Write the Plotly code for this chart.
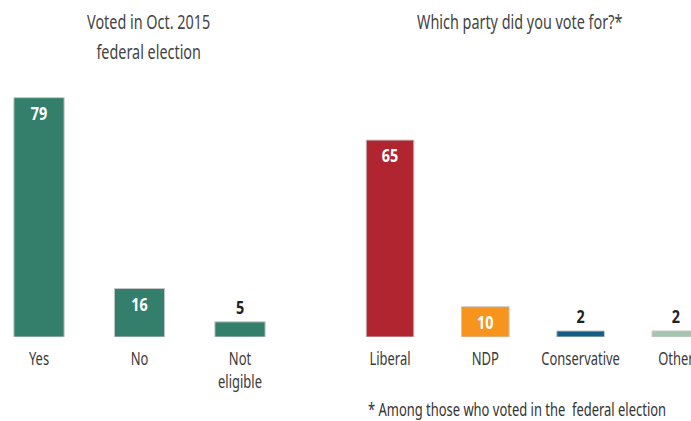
import plotly.graph_objects as go

vote_cats = ["Yes", "No", "Not<br>eligible"]
vote_vals = [79, 16, 5]
party_cats = ["Liberal", "NDP", "Conservative", "Other"]
party_vals = [65, 10, 2, 2]
party_colors = ["#b0252f", "#f7941e", "#135e86", "#a4c5ae"]
vote_color = "#347f6b"
title_left = ["Voted in Oct. 2015", "federal election"]
title_right = "Which party did you vote for?*"
footnote = "* Among those who voted in the  federal election"

FONT = "Noto Sans, sans-serif"
W, H = 691, 421
base_px = 337
px_per_unit = 3.03

fig = go.Figure()
for xa, vals, colors in (("x", vote_vals, vote_color), ("x2", party_vals, party_colors)):
    fig.add_trace(go.Bar(
        x=list(range(len(vals))), y=vals, width=0.5,
        marker=dict(color=colors, line=dict(color="#c8c8c8", width=1)),
        text=[str(v) for v in vals],
        textposition=["inside" if v > 8 else "outside" for v in vals],
        insidetextanchor="end", constraintext="none",
        insidetextfont=dict(color="white", size=18, family=FONT, weight="bold"),
        outsidetextfont=dict(color="#222", size=18, family=FONT, weight="bold"),
        cliponaxis=False, xaxis=xa, yaxis="y", showlegend=False, hoverinfo="skip",
    ))

def xr(c0_px, step_px):
    r0 = -c0_px / step_px
    return [r0, r0 + W / step_px]

tickfont = dict(family=FONT, size=18, color="#3a3a3a")
common = dict(showgrid=False, zeroline=False, showline=False, ticks="outside", ticklen=5,
              tickcolor="rgba(0,0,0,0)", tickfont=tickfont, ticklabeloverflow="allow",
              automargin=False, fixedrange=True)
fig.update_layout(
    width=W, height=H,
    margin=dict(l=0, r=0, t=0, b=0, pad=0, autoexpand=False),
    paper_bgcolor="white", plot_bgcolor="white",
    xaxis=dict(domain=[0, 1], range=xr(39, 100.5), tickvals=list(range(len(vote_cats))),
               ticktext=vote_cats, **common),
    xaxis2=dict(domain=[0, 1], overlaying="x", range=xr(390, 95.3), side="bottom",
                tickvals=list(range(len(party_cats))), ticktext=party_cats, **common),
    yaxis=dict(domain=[(H - base_px) / H, 1], range=[0, base_px / px_per_unit],
               visible=False, fixedrange=True),
    font=dict(family=FONT),
    annotations=[
        dict(text=title_left[0], x=148 / W, y=1 - 22 / H, xref="paper", yref="paper",
             showarrow=False, xanchor="center", yanchor="middle",
             font=dict(family=FONT, size=20, color="#444")),
        dict(text=title_left[1], x=148 / W, y=1 - 52 / H, xref="paper", yref="paper",
             showarrow=False, xanchor="center", yanchor="middle",
             font=dict(family=FONT, size=20, color="#444")),
        dict(text=title_right, x=519 / W, y=1 - 22 / H, xref="paper", yref="paper",
             showarrow=False, xanchor="center", yanchor="middle",
             font=dict(family=FONT, size=20, color="#444")),
        dict(text=footnote, x=366 / W, y=1 - 409 / H, xref="paper", yref="paper",
             showarrow=False, xanchor="left", yanchor="middle", align="left",
             font=dict(family=FONT, size=18, color="#333")),
    ],
)

post = """
var gd = document.getElementById('{plot_id}');
document.body.style.margin = '0';
document.documentElement.style.overflow = 'hidden';
document.body.style.overflow = 'hidden';
gd.style.overflow = 'hidden';
gd.querySelectorAll('text').forEach(function (t) {
  var b = t.getBBox();
  if (!b.width) return;
  var anchor = t.getAttribute('text-anchor') || 'start';
  var cx = anchor === 'middle' ? b.x + b.width / 2 : (anchor === 'end' ? b.x + b.width : b.x);
  var s = t.classList.contains('bartext') ? 0.8 : 0.72;
  var tr = t.getAttribute('transform') || '';
  t.setAttribute('transform', tr + ' translate(' + cx + ',0) scale(' + s + ',1) translate(' + (-cx) + ',0)');
});
"""
fig.write_html("out.html", post_script=post,
               config={"displayModeBar": False, "staticPlot": True})
